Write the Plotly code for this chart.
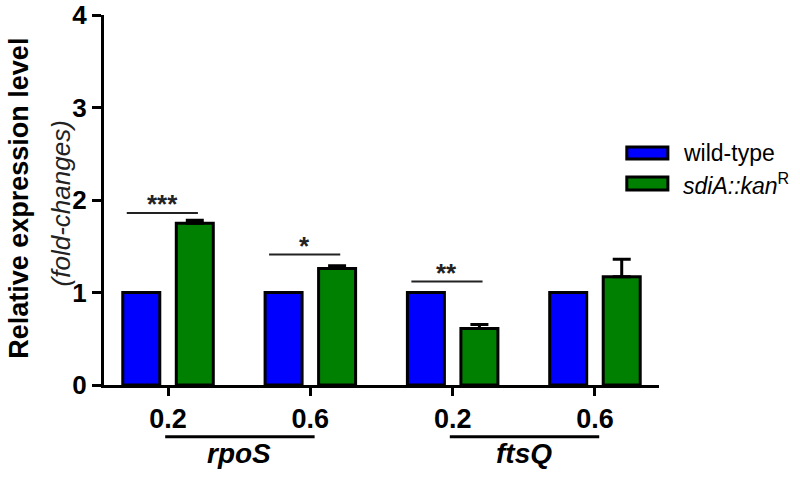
import plotly.graph_objects as go

positions = [0, 1, 2, 3]
tick_labels = ["0.2", "0.6", "0.2", "0.6"]
wild_type = [1.0, 1.0, 1.0, 1.0]
mutant = [1.75, 1.26, 0.61, 1.17]
mutant_err = [0.03, 0.03, 0.045, 0.19]
genes = ["rpoS", "ftsQ"]
gene_spans = [(0, 1), (2, 3)]
sig_groups = [0, 1, 2]
sig_labels = ["***", "*", "**"]
sig_heights = [1.86, 1.41, 1.12]

FONT = "Liberation Sans, Arial, sans-serif"
BLUE = "#0000FF"
GREEN = "#008000"

fig = go.Figure()
fig.add_trace(go.Bar(
    x=positions, y=wild_type, width=0.26, offset=-0.318,
    marker=dict(color=BLUE, line=dict(color="black", width=3)),
    name="wild-type", showlegend=False,
))
fig.add_trace(go.Bar(
    x=positions, y=mutant, width=0.26, offset=0.058,
    marker=dict(color=GREEN, line=dict(color="black", width=3)),
    error_y=dict(type="data", array=mutant_err, arrayminus=[0] * 4,
                 symmetric=False, color="black", thickness=3, width=9),
    name="sdiA::kanR", showlegend=False,
))

shapes = []
annotations = []

# significance bars
for g, lab, h in zip(sig_groups, sig_labels, sig_heights):
    shapes.append(dict(type="line", xref="x", yref="y", x0=g - 0.29, x1=g + 0.21,
                       y0=h, y1=h, line=dict(color="#222", width=2)))
    annotations.append(dict(x=g - 0.04, y=h - 0.09, xref="x", yref="y", text=f"<b>{lab}</b>",
                            showarrow=False, xanchor="center", yanchor="bottom",
                            font=dict(family=FONT, size=26, color="#222")))

# gene group labels
for gname, (a, b) in zip(genes, gene_spans):
    shapes.append(dict(type="line", xref="x", yref="paper", x0=a - 0.02, x1=b + 0.03,
                       y0=-0.14, y1=-0.14, line=dict(color="black", width=3)))
    annotations.append(dict(x=(a + b) / 2, y=-0.185, xref="x", yref="paper",
                            text=f"<b><i>{gname}</i></b>", showarrow=False,
                            xanchor="center", yanchor="middle",
                            font=dict(family=FONT, size=28, color="black")))

# legend
leg_items = [(BLUE, "wild-type", 0.643, 0.611),
             (GREEN, "<i>sdiA::kan</i><sup>R</sup>", 0.562, 0.527)]
for col, txt, y1, y0 in leg_items:
    shapes.append(dict(type="rect", xref="paper", yref="paper", x0=0.942, x1=1.016,
                       y0=y0, y1=y1, fillcolor=col, line=dict(color="black", width=3)))
    annotations.append(dict(x=1.040, y=(y0 + y1) / 2, xref="paper", yref="paper", text=txt,
                            showarrow=False, xanchor="left", yanchor="middle",
                            font=dict(family=FONT, size=23, color="black")))

# y-axis title
annotations.append(dict(x=-0.152, y=0.505, xref="paper", yref="paper",
                        text="<b>Relative expression level</b>", textangle=-90,
                        showarrow=False, xanchor="center", yanchor="middle",
                        font=dict(family=FONT, size=27, color="black")))
annotations.append(dict(x=-0.078, y=0.49, xref="paper", yref="paper",
                        text="<i>(fold-changes)</i>", textangle=-90,
                        showarrow=False, xanchor="center", yanchor="middle",
                        font=dict(family=FONT, size=26, color="#222")))

fig.update_layout(
    template="none",
    width=800, height=480,
    margin=dict(l=104, r=141, t=15, b=95),
    paper_bgcolor="white", plot_bgcolor="white",
    barmode="overlay", showlegend=False,
    shapes=shapes, annotations=annotations,
    font=dict(family=FONT, color="black"),
)
fig.update_xaxes(range=[-0.45, 3.45], tickvals=positions, ticktext=[f"<b>{t}</b>" for t in tick_labels],
                 automargin=False, ticklabeloverflow="allow",
                 showline=True, linecolor="black", linewidth=3, ticks="outside", ticklen=8,
                 tickwidth=3, tickcolor="black", showgrid=False, zeroline=False,
                 tickfont=dict(family=FONT, size=27, color="black"))
fig.update_yaxes(range=[0, 4], tickvals=[0, 1, 2, 3, 4], ticktext=["<b>0</b>", "<b>1</b>", "<b>2</b>", "<b>3</b>", "<b>4</b>"],
                 automargin=False, ticklabeloverflow="allow",
                 showline=True, linecolor="black", linewidth=3, ticks="outside", ticklen=9,
                 tickwidth=3, tickcolor="black", showgrid=False, zeroline=False,
                 tickfont=dict(family=FONT, size=26, color="black"))

# remove the browser's default 8px body margin so the figure sits at the page origin
fig.write_html("out.html", config={"displayModeBar": False},
               post_script="document.body.style.margin='0';")
